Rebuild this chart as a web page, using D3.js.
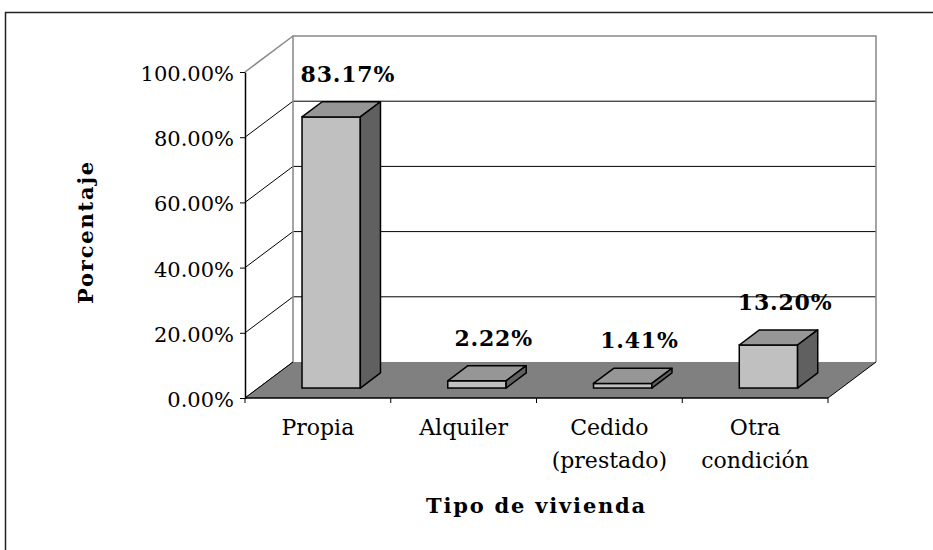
<!DOCTYPE html>
<html>
<head>
<meta charset="utf-8">
<script src="https://cdn.jsdelivr.net/npm/d3@7"></script>
<style>
  body { margin: 0; background: #fff; }
  text { font-family: "DejaVu Serif", "Liberation Serif", serif; }
</style>
</head>
<body>
<svg id="chart" width="933" height="550"></svg>
<script>
// data
var categories = ["Propia", "Alquiler", "Cedido (prestado)", "Otra condición"];
var catLines   = [["Propia"], ["Alquiler"], ["Cedido", "(prestado)"], ["Otra", "condición"]];
var values     = [83.17, 2.22, 1.41, 13.20];
var yTicks     = [0, 20, 40, 60, 80, 100];

var svg = d3.select("#chart");

// outer frame
svg.append("rect")
        .attr("x", 5.5).attr("y", 12.5)
        .attr("width", 1000).attr("height", 1000)
        .attr("fill", "none").attr("stroke", "#222").attr("stroke-width", 1.5);

var DX = 48, DY = 36;   // depth of the 3d box

var x = d3.scaleBand().domain(categories).range([245, 828]);
var y = d3.scaleLinear().domain([0, 100]).range([398, 72]);
var bw = x.bandwidth();

var g = svg.append("g");

// back wall
g.append("rect")
        .attr("x", x.range()[0] + DX).attr("y", y(100) - DY)
        .attr("width", x.range()[1] - x.range()[0]).attr("height", y(0) - y(100))
        .attr("fill", "#fff");

// gridlines on back wall
g.selectAll(".grid")
        .data(yTicks.filter(function(d) { return d > 0 && d < 100; }))
        .enter().append("line")
        .attr("x1", x.range()[0] + DX).attr("x2", x.range()[1] + DX)
        .attr("y1", function(d) { return y(d) - DY; })
        .attr("y2", function(d) { return y(d) - DY; })
        .attr("stroke", "#000").attr("stroke-width", 1);

// side wall lines
g.selectAll(".side")
        .data(yTicks)
        .enter().append("line")
        .attr("x1", x.range()[0]).attr("x2", x.range()[0] + DX)
        .attr("y1", function(d) { return y(d); })
        .attr("y2", function(d) { return y(d) - DY; })
        .attr("stroke", function(d) { return d == 100 ? "#888" : "#000"; })
        .attr("stroke-width", function(d) { return d == 100 ? 1.5 : 1; });

// wall border (gray)
var x0 = x.range()[0], x1 = x.range()[1];
g.append("path")
        .attr("d", "M" + (x0 + DX) + "," + (y(0) - DY) + "V" + (y(100) - DY) +
                   "H" + (x1 + DX) + "V" + (y(0) - DY))
        .attr("fill", "none").attr("stroke", "#888").attr("stroke-width", 1.5);

// floor
g.append("path")
        .attr("d", "M" + x0 + "," + y(0) + "L" + x1 + "," + y(0) +
                   "L" + (x1 + DX) + "," + (y(0) - DY) + "L" + (x0 + DX) + "," + (y(0) - DY) + "Z")
        .attr("fill", "#808080");
g.append("line")
        .attr("x1", x1).attr("y1", y(0)).attr("x2", x1 + DX).attr("y2", y(0) - DY)
        .attr("stroke", "#000").attr("stroke-width", 1);
g.append("line")
        .attr("x1", x0).attr("y1", y(0)).attr("x2", x0 + DX).attr("y2", y(0) - DY)
        .attr("stroke", "#000").attr("stroke-width", 1);

// y axis
var yAxis = d3.axisLeft(y)
        .tickValues(yTicks)
        .tickFormat(function(d) { return d.toFixed(2) + "%"; })
        .tickSize(5).tickSizeOuter(0).tickPadding(6);

var ya = svg.append("g").attr("transform", "translate(" + x0 + ",0)").call(yAxis);
ya.select(".domain").attr("stroke", "#000").attr("stroke-width", 1.5);
ya.selectAll("text")
        .attr("font-family", "DejaVu Serif").attr("font-size", 21).attr("fill", "#000")
        .attr("dy", "0.4em");

// x axis line and boundary ticks
svg.append("line")
        .attr("x1", x0).attr("x2", x1).attr("y1", y(0)).attr("y2", y(0))
        .attr("stroke", "#000").attr("stroke-width", 1.5);
svg.selectAll(".xtick")
        .data(categories.concat(["end"]))
        .enter().append("line")
        .attr("x1", function(d) { return d == "end" ? x1 : x(d); })
        .attr("x2", function(d) { return d == "end" ? x1 : x(d); })
        .attr("y1", y(0)).attr("y2", y(0) + 5)
        .attr("stroke", "#000").attr("stroke-width", 1);

// bars
var zf = 0.277, zd = 0.42;      // front offset and depth as part of DX/DY
var bars = svg.selectAll(".bar")
        .data(values)
        .enter().append("g").attr("class", "bar");

function bx(i) { return x(categories[i]) + bw * 0.3 + DX * zf; }
var w = bw * 0.4, ddx = DX * zd, ddy = DY * zd;

bars.each(function(v, i) {
        var b = d3.select(this);
        var left = bx(i), right = left + w;
        var top = y(v) - DY * zf, bottom = y(0) - DY * zf;

        b.append("rect")
                .attr("x", left).attr("y", top)
                .attr("width", w).attr("height", bottom - top)
                .attr("fill", "#c0c0c0").attr("stroke", "#000").attr("stroke-width", 1.5);
        b.append("path")
                .attr("d", "M" + left + "," + top + "L" + right + "," + top +
                           "L" + (right + ddx) + "," + (top - ddy) + "L" + (left + ddx) + "," + (top - ddy) + "Z")
                .attr("fill", "#969696").attr("stroke", "#000").attr("stroke-width", 1.5)
                .attr("stroke-linejoin", "round");
        b.append("path")
                .attr("d", "M" + right + "," + top + "L" + (right + ddx) + "," + (top - ddy) +
                           "L" + (right + ddx) + "," + (bottom - ddy) + "L" + right + "," + bottom + "Z")
                .attr("fill", "#606060").attr("stroke", "#000").attr("stroke-width", 1.5)
                .attr("stroke-linejoin", "round");
});

// value labels
svg.selectAll(".vlabel")
        .data(values)
        .enter().append("text")
        .attr("x", function(d, i) { return x(categories[i]) + bw / 2 + 30; })
        .attr("y", function(d) { return y(d) - 45; })
        .attr("text-anchor", "middle")
        .attr("font-size", 22).attr("font-weight", "bold")
        .attr("letter-spacing", 0.8)
        .text(function(d) { return d.toFixed(2) + "%"; });

// category labels
var cl = svg.selectAll(".clabel")
        .data(catLines)
        .enter().append("text")
        .attr("text-anchor", "middle")
        .attr("font-size", 22);
cl.each(function(lines, i) {
        var t = d3.select(this);
        lines.forEach(function(s, j) {
                t.append("tspan")
                        .attr("x", x(categories[i]) + bw / 2)
                        .attr("y", 435 + j * 33)
                        .text(s);
        });
});

// axis titles
svg.append("text")
        .attr("x", (x0 + x1) / 2).attr("y", 513)
        .attr("text-anchor", "middle")
        .attr("font-size", 21).attr("font-weight", "bold").attr("letter-spacing", 1.8)
        .text("Tipo de vivienda");

svg.append("text")
        .attr("transform", "translate(93,232) rotate(-90)")
        .attr("text-anchor", "middle")
        .attr("font-size", 21).attr("font-weight", "bold").attr("letter-spacing", 1.8)
        .text("Porcentaje");
</script>
</body>
</html>
